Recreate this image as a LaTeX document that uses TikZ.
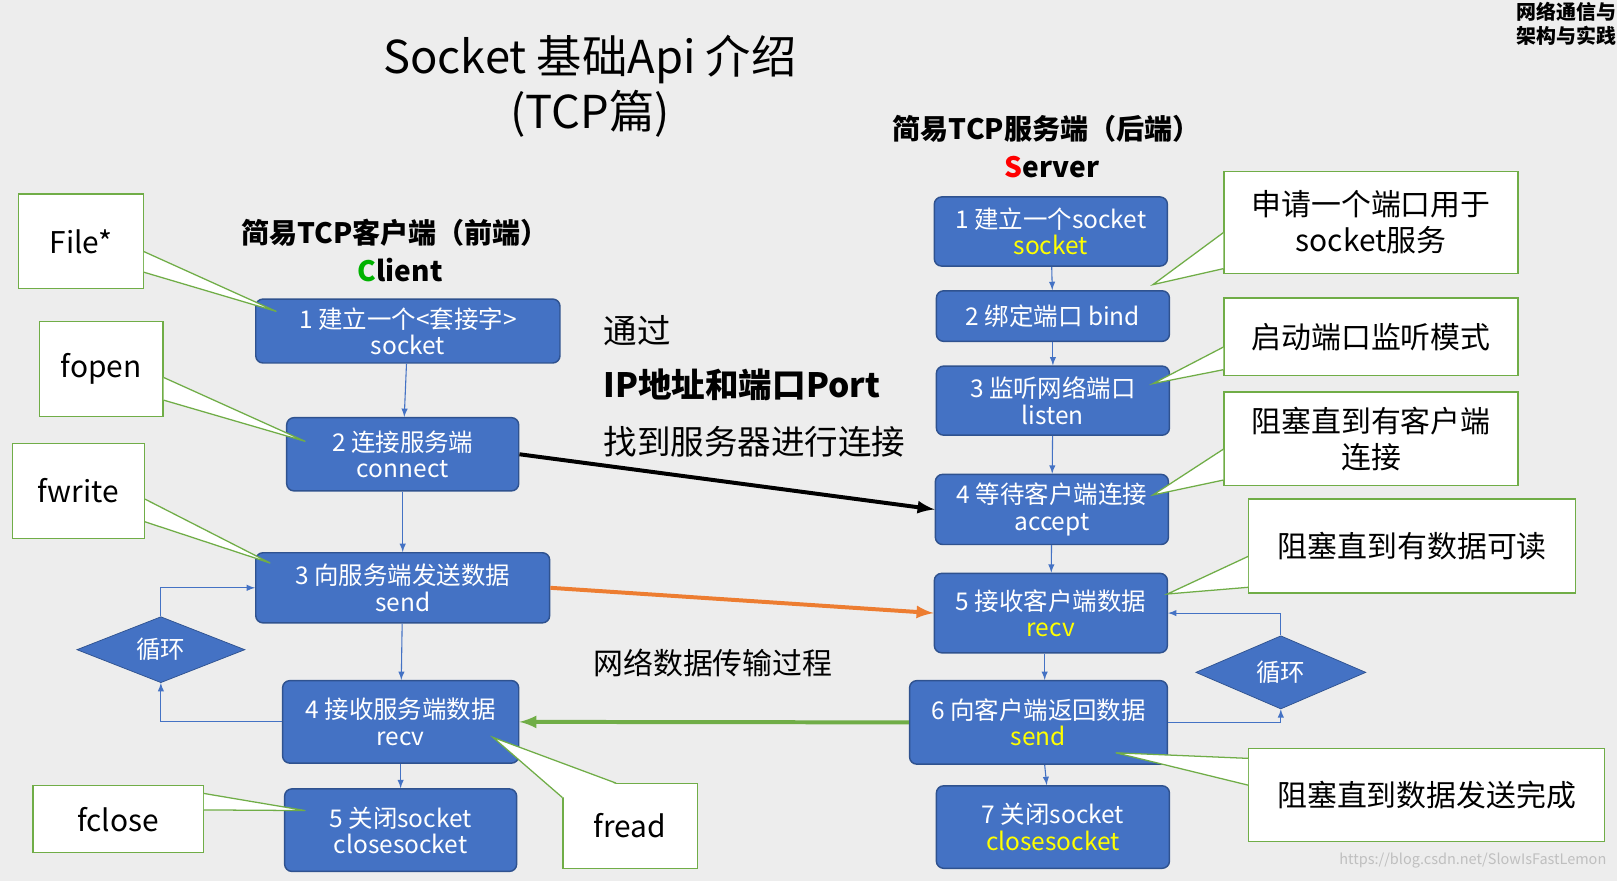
\documentclass[tikz,border=0pt]{standalone}
\usepackage{fontspec}
\setmainfont{Noto Sans CJK SC}
\usepackage{tikz}
\usetikzlibrary{arrows,shapes,shapes.geometric,positioning,calc}
\definecolor{boxblue}{HTML}{4472C4}
\definecolor{boxedge}{HTML}{2F528F}
\definecolor{callgreen}{HTML}{70AD47}
\definecolor{flowor}{HTML}{ED7D31}
\definecolor{kwyellow}{HTML}{FFFF00}
\tikzset{
	apibox/.style={draw=boxedge,fill=boxblue,rounded corners=4pt,text=white,align=center,font=\fontsize{13.5}{14.5}\selectfont,inner sep=0pt,line width=0.8pt},
	note/.style={draw=callgreen,fill=white,align=center,font=\fontsize{16.5}{20}\selectfont,inner sep=0pt,line width=0.7pt},
	callout/.style={draw=callgreen,fill=white,line width=0.7pt},
	cycle/.style={diamond,draw=boxedge,fill=boxblue,text=white,font=\fontsize{13.5}{15}\selectfont,aspect=2.55,inner sep=0pt},
	stepflow/.style={draw=boxblue,->,>=latex,line width=0.6pt},
	dataflow/.style={->,>=latex,line width=2.2pt}
}
\newcommand{\yl}[1]{\textcolor{kwyellow}{#1}}
\begin{document}
\begin{tikzpicture}[x=0.02cm,y=-0.02cm]
	\fill[black!7] (0,0) rectangle (1568,854);
	\useasboundingbox (0,0) rectangle (1568,854);

	% titles
	\node (title) at (572,58) {\fontsize{25}{28}\selectfont Socket 基础Api 介绍};
	\node (subtitle) at (572,110) {\fontsize{25}{28}\selectfont (TCP篇)};
	\node[font=\bfseries\fontsize{15.5}{18}\selectfont] (chead) at (383,226) {简易TCP客户端（前端）};
	\node[font=\bfseries\fontsize{15.5}{18}\selectfont] (cname) at (388,262) {\textcolor{green!70!black}{C}lient};
	\node[font=\bfseries\fontsize{15.5}{18}\selectfont] (shead) at (1015,125) {简易TCP服务端（后端）};
	\node[font=\bfseries\fontsize{15.5}{18}\selectfont] (sname) at (1020,162) {\textcolor{red}{S}erver};
	\node[font=\bfseries\fontsize{11}{13}\selectfont,align=left,anchor=north west,inner sep=0pt] (corner) at (1470,2) {网络通信与\\架构与实践};

	% client
	\node[apibox,minimum width=295*0.02cm,minimum height=62*0.02cm] (c1) at (395.5,321) {1 建立一个<套接字>\\socket};
	\node[apibox,minimum width=225*0.02cm,minimum height=71*0.02cm] (c2) at (390.5,440.5) {2 连接服务端\\connect};
	\node[apibox,minimum width=285*0.02cm,minimum height=68*0.02cm] (c3) at (390.5,570) {3 向服务端发送数据\\send};
	\node[apibox,minimum width=229*0.02cm,minimum height=80*0.02cm] (c4) at (388.5,700) {4 接收服务端数据\\recv};
	\node[apibox,minimum width=225*0.02cm,minimum height=80*0.02cm] (c5) at (388.5,805) {5 关闭socket\\closesocket};
	\node[cycle,minimum width=163*0.02cm,minimum height=64*0.02cm] (cloop) at (156,630) {循环};

	% server
	\node[apibox,minimum width=226*0.02cm,minimum height=67*0.02cm] (s1) at (1019,224.5) {1 建立一个socket\\\yl{socket}};
	\node[apibox,minimum width=226*0.02cm,minimum height=49*0.02cm] (s2) at (1021,306.5) {2 绑定端口 bind};
	\node[apibox,minimum width=226*0.02cm,minimum height=67*0.02cm] (s3) at (1021,388.5) {3 监听网络端口\\listen};
	\node[apibox,minimum width=226*0.02cm,minimum height=68*0.02cm] (s4) at (1020,494) {4 等待客户端连接\\accept};
	\node[apibox,minimum width=226*0.02cm,minimum height=77*0.02cm] (s5) at (1019,594.5) {5 接收客户端数据\\\yl{recv}};
	\node[apibox,minimum width=250*0.02cm,minimum height=81*0.02cm] (s6) at (1007,700.5) {6 向客户端返回数据\\\yl{send}};
	\node[apibox,minimum width=226*0.02cm,minimum height=80*0.02cm] (s7) at (1021,802) {7 关闭socket\\\yl{closesocket}};
	\node[cycle,minimum width=165*0.02cm,minimum height=71*0.02cm] (sloop) at (1242,652) {循环};

	% middle texts
	\node[anchor=west,inner sep=0pt,font=\fontsize{18.5}{21}\selectfont] (via) at (585,321) {通过};
	\node[anchor=west,inner sep=0pt,font=\bfseries\fontsize{18.5}{21}\selectfont] (ipport) at (585,373) {IP地址和端口Port};
	\node[anchor=west,inner sep=0pt,font=\fontsize{18.5}{21}\selectfont] (find) at (585,428) {找到服务器进行连接};
	\node[anchor=west,inner sep=0pt,font=\fontsize{16.5}{19}\selectfont] (trans) at (575,643) {网络数据传输过程};
	\node[anchor=east,inner sep=0pt,text=white!75!black,font=\fontsize{8}{10}\selectfont] (mark) at (1558,834) {https://blog.csdn.net/SlowIsFastLemon};

	% step arrows
	\draw[stepflow] (c1) -- (c2);
	\draw[stepflow] (c2) -- (c3);
	\draw[stepflow] (c3) -- (c4);
	\draw[stepflow] (c4) -- (c5);
	\draw[stepflow] (s1) -- (s2);
	\draw[stepflow] (s2) -- (s3);
	\draw[stepflow] (s3) -- (s4);
	\draw[stepflow] (s4) -- (s5);
	\draw[stepflow] ($(s5.south)+(-6,0)$) -- ($(s6.north)+(6,0)$);
	\draw[stepflow] ($(s6.south)+(6,0)$) -- ($(s7.north)+(-6,0)$);

	% loops
	\draw[stepflow] (c4.west) -| (cloop.south);
	\draw[stepflow] (cloop.north) |- (c3.west);
	\draw[stepflow] (s6.east) -| (sloop.south);
	\draw[stepflow] (sloop.north) |- (s5.east);

	% data flow
	\draw[dataflow,black] (c2.east) -- (s4.west);
	\draw[dataflow,flowor] (c3.east) -- (s5.west);
	\draw[dataflow,callgreen] (s6.west) -- (c4.east);

	% client notes
	\node[note,minimum width=121*0.02cm,minimum height=92*0.02cm] (nfile) at (78.5,234) {File*};
	\filldraw[callout] ($(nfile.east)+(0,10)$) -- (268,302) -- ($(nfile.east)+(0,30)$);
	\node[note,minimum width=120*0.02cm,minimum height=92*0.02cm] (nopen) at (98,358) {fopen};
	\filldraw[callout] ($(nopen.east)+(0,8)$) -- (296,428) -- ($(nopen.east)+(0,30)$);
	\node[note,minimum width=128*0.02cm,minimum height=92*0.02cm] (nwrite) at (76,476) {fwrite};
	\filldraw[callout] ($(nwrite.east)+(0,8)$) -- (262,546) -- ($(nwrite.east)+(0,30)$);
	\node[note,minimum width=165*0.02cm,minimum height=65*0.02cm] (nclose) at (114.5,794.5) {fclose};
	\filldraw[callout] ($(nclose.north east)+(0,8)$) -- (296,786) -- ($(nclose.north east)+(0,24)$);
	\node[note,minimum width=130*0.02cm,minimum height=82*0.02cm] (nread) at (611,801) {fread};
	\filldraw[callout] ($(nread.north west)+(0,14)$) -- (478,715) -- ($(nread.north west)+(52,0)$);

	% server notes
	\node[note,minimum width=285*0.02cm,minimum height=99*0.02cm] (nsock) at (1329.5,215.5) {申请一个端口用于\\socket服务};
	\filldraw[callout] ($(nsock.west)+(0,10)$) -- (1118,276) -- ($(nsock.west)+(0,45)$);
	\node[note,minimum width=285*0.02cm,minimum height=75*0.02cm] (nlisten) at (1329.5,326.5) {启动端口监听模式};
	\filldraw[callout] ($(nlisten.west)+(0,10)$) -- (1118,372) -- ($(nlisten.west)+(0,32)$);
	\node[note,minimum width=285*0.02cm,minimum height=91*0.02cm] (naccept) at (1329.5,425.5) {阻塞直到有客户端\\连接};
	\filldraw[callout] ($(naccept.west)+(0,10)$) -- (1118,480) -- ($(naccept.west)+(0,40)$);
	\node[note,minimum width=317*0.02cm,minimum height=91*0.02cm] (nrecv) at (1369.5,529.5) {阻塞直到有数据可读};
	\filldraw[callout] ($(nrecv.west)+(0,10)$) -- (1132,576) -- ($(nrecv.west)+(0,40)$);
	\node[note,minimum width=345*0.02cm,minimum height=90*0.02cm] (nsend) at (1383.5,771) {阻塞直到数据发送完成};
	\filldraw[callout] ($(nsend.north west)+(0,10)$) -- (1082,730) -- ($(nsend.north west)+(0,36)$);
\end{tikzpicture}
\end{document}
